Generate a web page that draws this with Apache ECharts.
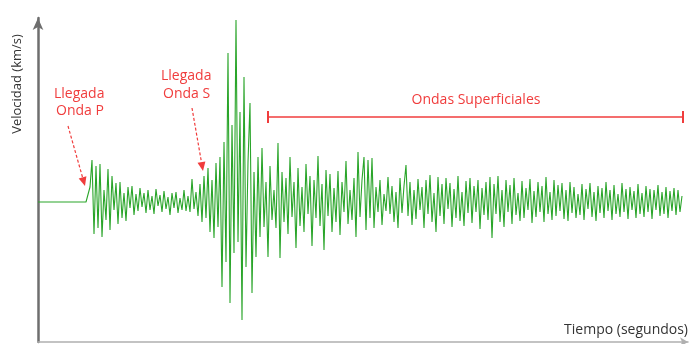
<!DOCTYPE html>
<html>
<head>
<meta charset="utf-8">
<script src="https://cdn.jsdelivr.net/npm/echarts@6/dist/echarts.min.js"></script>
<style>
  html, body { margin: 0; padding: 0; background: #fff; }
  #chart { width: 690px; height: 344px; }
</style>
</head>
<body>
<div id="chart"></div>
<script>
// Seismogram: ground velocity sampled every 0.2 s
const sampleStep = 0.2;          // seconds between samples
const timeRange = [0, 65];       // seconds shown on the time axis
const velocityRange = [-14, 18.4];

const quietTrace = [
  0, 0, 0, 0, 0, 0, 0, 0, 0, 0, 0, 0, 0, 0, 0, 0, 0, 0, 0, 0, 0, 0, 0, 0, 0, 0.1
];
const pWaveTrace = [
  1.5, 4.2, -3.2, 3.6, -2.6, 3.8, -3.5, 1.2, -1.8, 3.3, -2.8, 2.6, -0.8, 1.9, -2.2, 2.0,
  -1.6, 0.9, -1.9, 1.5, -0.6,
  1.6, -1.3, 0.8, -0.9, 1.4, -0.5, 0.9, -1.1, 1.2, -0.8, 0.6, -1.2, 1.3, -0.4, 0.7, -1.0,
  1.1, -0.7, 0.5, -1.3, 0.9, -0.6, 1.0, -1.1, 0.4, -0.8, 1.2, -0.9, 0.6, -1.0, 2.3, -0.7
];
const sWaveTrace = [
  1.0, -1.4, 1.8, -2.0, 2.6, -1.6, 3.4, -3.0, 2.2, -3.6, 3.9, -2.5,
  4.5, -8.5, 6.0, -6.0, 14.9, -10.1, 7.7, -5.1, 18.2, -4.0, 9.0, -11.8, 12.5, -6.5, 4.0,
  9.9, -9.1, 3.0, -5.5, 4.5, -3.5,
  5.4, -2.5, 2.0, -5.5, 3.6, -1.8, 1.2, -2.6, 5.9, -5.6, 3.0, -2.0, 2.4, -3.2, 4.5, -1.5,
  2.0, -4.6, 3.4, -2.4
];
const surfaceTrace = [
  1.5, -3.0, 3.8, -1.2, 2.6, -4.4, 2.2, -1.6, 4.6, -2.4, 1.8, -4.8, 3.2, -1.4, 2.8, -3.0,
  1.4, -2.0, 3.1, -3.3, 2.0, -1.0, 4.1, -2.2, 1.2,
  -1.8, 2.4, -3.5, 5.0, -1.5, 2.2, 4.5, -2.8, 4.2, -1.6, 4.4, -2.6, 1.5, -1.0, 2.2, -2.3,
  0.8, -0.9, 2.5, -1.2, 1.6, -2.0, 1.0, -2.6, 2.4,
  -1.1, 1.6, 3.7, -1.4, 2.0, -2.3, 1.2, -1.7, 2.3, -0.8, 1.5, -2.6, 2.2, -1.2, 2.7, -2.0,
  0.9, -3.0, 2.5, -1.4, 1.8, -2.2, 2.4, -0.7, 1.9, -2.5, 1.3, -1.6, 2.6, -1.9, 1.0, -2.4,
  2.1, -1.1, 2.4, -2.1, 1.6, -1.0, 2.2, -2.7, 1.4, -1.3, 2.0, -1.8, 2.5, -3.6, 1.8, -1.2,
  2.6, -2.0,
  1.2, -2.5, 2.2, -1.0, 1.7, -2.2, 2.4, -1.3, 0.9, -1.9, 2.1, -1.6, 1.4, -0.8, 2.3, -2.1,
  1.1, -1.5, 2.0, -1.0, 1.6, -2.0, 2.5, -1.2, 1.0, -1.8, 2.2, -1.4, 1.7, -0.9, 1.9, -1.7,
  1.2, -1.9, 2.0, -1.1, 1.5, -1.6, 0.8, -1.3, 1.8, -1.8, 1.3, -0.7, 1.9, -1.5, 1.0, -1.9,
  1.6, -1.1,
  1.4, -1.6, 2.0, -0.9, 1.2, -1.8, 1.7, -1.2, 0.8, -1.5, 1.9, -1.0, 1.3, -1.7, 1.5, -0.8,
  1.1, -1.6, 1.8, -1.2, 0.9, -1.5, 1.6, -1.0, 1.3, -1.7, 1.2, -0.8, 1.7, -1.4, 1.0, -1.2,
  1.5, -1.6, 1.1, -0.9, 1.4, -1.3, 1.2, -1.0, 0.6
];

const velocity = quietTrace.concat(pWaveTrace, sWaveTrace, surfaceTrace);
const points = velocity.map((v, i) => [+(i * sampleStep).toFixed(2), v]);

const red = '#f03c3c';
const textFont = '"Open Sans", "Noto Sans", sans-serif';

function redText(x, y, text) {
  return { type: 'text', x: x, y: y, style: { text: text, fill: red, font: '14px ' + textFont, textAlign: 'left', textVerticalAlign: 'middle' } };
}
function dashedArrow(x1, y1, x2, y2) {
  const ang = Math.atan2(y2 - y1, x2 - x1);
  const len = 9, half = 4;
  const bx = x2 - len * Math.cos(ang), by = y2 - len * Math.sin(ang);
  const px = -Math.sin(ang) * half, py = Math.cos(ang) * half;
  return [
    { type: 'line', shape: { x1: x1, y1: y1, x2: bx, y2: by }, style: { stroke: red, lineWidth: 1.2, lineDash: [3, 2] } },
    { type: 'polygon', shape: { points: [[x2, y2], [bx + px, by + py], [bx - px, by - py]] }, style: { fill: red } }
  ];
}

const chart = echarts.init(document.getElementById('chart'), null, { renderer: 'canvas' });
chart.setOption({
  animation: false,
  backgroundColor: '#fff',
  grid: { left: 38, right: 2, top: 18, bottom: 2 },
  xAxis: {
    type: 'value', min: timeRange[0], max: timeRange[1],
    axisLine: { show: true, onZero: false, symbol: ['none', 'arrow'], symbolSize: [7, 8], lineStyle: { color: '#b0b0b0', width: 1.5 } },
    axisTick: { show: false }, axisLabel: { show: false }, splitLine: { show: false }
  },
  yAxis: {
    type: 'value', min: velocityRange[0], max: velocityRange[1],
    axisLine: { show: true, onZero: false, symbol: ['none', 'arrow'], symbolSize: [8, 12], lineStyle: { color: '#6e6e6e', width: 2.5 } },
    axisTick: { show: false }, axisLabel: { show: false }, splitLine: { show: false }
  },
  series: [{
    type: 'line', data: points, showSymbol: false, smooth: false,
    lineStyle: { color: '#2aa52a', width: 1.1 },
    z: 2
  }],
  graphic: [
    { type: 'text', x: 17, y: 84, rotation: Math.PI / 2, style: { text: 'Velocidad (km/s)', fill: '#333', font: '13px ' + textFont, textAlign: 'center', textVerticalAlign: 'middle' } },
    { type: 'text', x: 688, y: 330, style: { text: 'Tiempo (segundos)', fill: '#333', font: '14px ' + textFont, textAlign: 'right', textVerticalAlign: 'middle' } },
    redText(54, 94, 'Llegada'),
    redText(56, 111, 'Onda P'),
    redText(161, 76, 'Llegada'),
    redText(163, 94, 'Onda S'),
    { type: 'text', x: 476, y: 100, style: { text: 'Ondas Superficiales', fill: red, font: '14px ' + textFont, textAlign: 'center', textVerticalAlign: 'middle' } },
    ...dashedArrow(68, 126, 85, 186),
    ...dashedArrow(192, 108, 203, 171),
    { type: 'line', shape: { x1: 268, y1: 117, x2: 683, y2: 117 }, style: { stroke: red, lineWidth: 1.5 } },
    { type: 'line', shape: { x1: 268, y1: 111, x2: 268, y2: 123 }, style: { stroke: red, lineWidth: 2 } },
    { type: 'line', shape: { x1: 683, y1: 111, x2: 683, y2: 123 }, style: { stroke: red, lineWidth: 2 } }
  ]
});
</script>
</body>
</html>
